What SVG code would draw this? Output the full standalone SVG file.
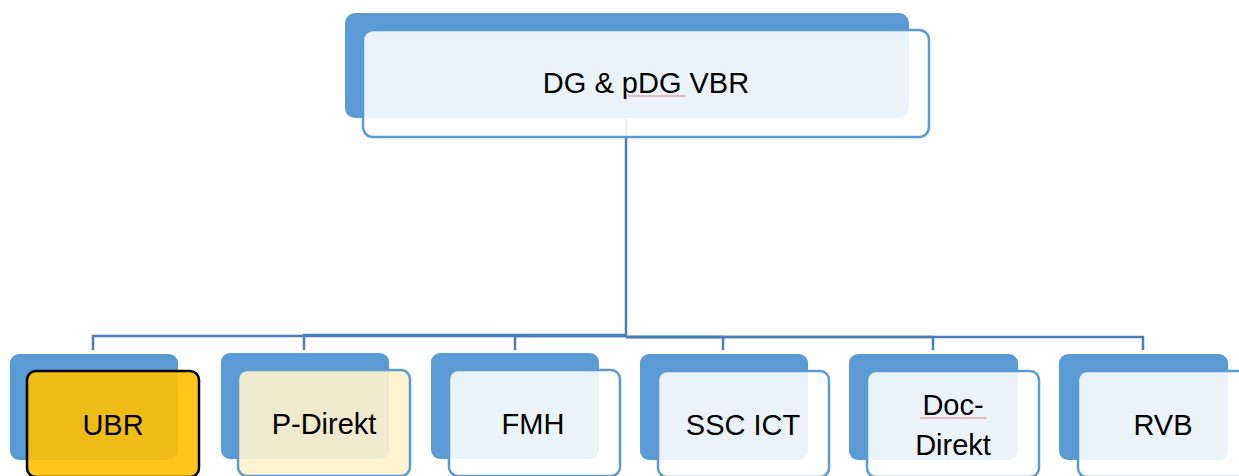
<svg xmlns="http://www.w3.org/2000/svg" width="1239" height="476" viewBox="0 0 1239 476">
<style>
.back{fill:#5B9BD5}
.front{fill:#FFFFFF;fill-opacity:0.88;stroke:#5B9BD5;stroke-width:2.5}
.t{font-family:"Liberation Sans",Arial,sans-serif;font-size:29px;fill:#000;text-anchor:middle}
.conn{fill:none;stroke:#4A7EBB;stroke-width:2.5}
.sq{stroke:#F08080;stroke-width:1;fill:none}
</style>
<rect width="1239" height="476" fill="#FFFFFF"/>
<g id="connectors">
<path class="conn" d="M626,118 V336"/>
<path class="conn" d="M626,336 H93 V350"/>
<path class="conn" d="M626,335 H304 V350"/>
<path class="conn" d="M626,336 H515 V350"/>
<path class="conn" d="M626,337 H723 V350"/>
<path class="conn" d="M626,337 H933 V350"/>
<path class="conn" d="M626,337 H1143 V350"/>
</g>
<g id="node-top">
<rect class="back" x="345" y="13" width="564" height="105" rx="10"/>
<rect class="front" x="363" y="30" width="566" height="107" rx="10"/>
<text class="t" x="646" y="93">DG &amp; pDG VBR</text>
<line class="sq" x1="628" y1="96" x2="686" y2="96"/>
</g>
<g id="node-ubr">
<rect class="back" x="10" y="354" width="168" height="106" rx="9"/>
<rect x="27" y="371" width="172" height="106" rx="9" fill="#FFC000" fill-opacity="0.9" stroke="#000" stroke-width="2.5"/>
<text class="t" x="113" y="435">UBR</text>
</g>
<g id="node-pdirekt">
<rect class="back" x="221" y="353" width="168" height="106" rx="9"/>
<rect x="238" y="370" width="172" height="106" rx="9" fill="#FFF2CC" fill-opacity="0.9" stroke="#5B9BD5" stroke-width="2.5"/>
<text class="t" x="324" y="434">P-Direkt</text>
</g>
<g id="node-fmh">
<rect class="back" x="431" y="353" width="168" height="106" rx="9"/>
<rect class="front" x="449" y="370" width="171" height="106" rx="9"/>
<text class="t" x="533" y="434">FMH</text>
</g>
<g id="node-sscict">
<rect class="back" x="640" y="354" width="168" height="106" rx="9"/>
<rect class="front" x="658" y="371" width="171" height="106" rx="9"/>
<text class="t" x="743" y="435">SSC ICT</text>
</g>
<g id="node-docdirekt">
<rect class="back" x="849" y="354" width="169" height="106" rx="9"/>
<rect class="front" x="867" y="371" width="172" height="106" rx="9"/>
<text class="t" x="953" y="415">Doc-</text>
<text class="t" x="953" y="455">Direkt</text>
<line class="sq" x1="920" y1="418" x2="986" y2="418"/>
</g>
<g id="node-rvb">
<rect class="back" x="1059" y="354" width="169" height="106" rx="9"/>
<rect class="front" x="1078" y="371" width="172" height="106" rx="9"/>
<text class="t" x="1163" y="435">RVB</text>
</g>
</svg>
